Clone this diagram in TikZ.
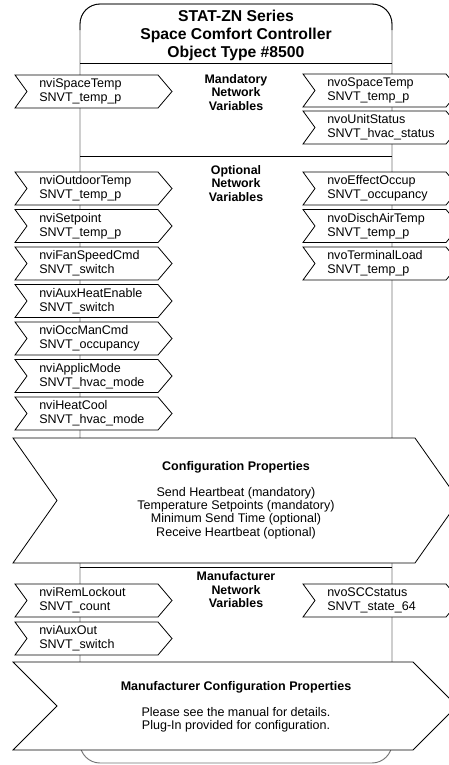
\documentclass[tikz,border=0pt]{standalone}
\usepackage{fontspec}
\setmainfont{Liberation Sans}
\usetikzlibrary{positioning}
\usetikzlibrary{calc}
\tikzstyle{chevron} = [draw,fill=white,line width=0.6pt]
\tikzstyle{boxside} = [draw,black!55,line width=0.7pt]
\tikzstyle{divider} = [draw,line width=0.6pt]
\tikzstyle{nvlabel} = [anchor=west,align=left,inner sep=0pt,font=\fontsize{9.4}{10.5}\selectfont]
\tikzstyle{seclabel} = [align=center,inner sep=0pt,font=\fontsize{9.3}{10.1}\selectfont\bfseries]
\tikzstyle{cptitle} = [inner sep=0pt,font=\fontsize{9.4}{10}\selectfont\bfseries]
\tikzstyle{cplabel} = [align=center,inner sep=0pt,font=\fontsize{9.4}{10}\selectfont]

\begin{document}
\begin{tikzpicture}[x=0.75pt,y=-0.75pt]
    \useasboundingbox (0,0) rectangle (449,765);
    \clip (0,0) rectangle (449,765);
    % The object box with its title
    \path[boxside, rounded corners=15pt] (80,4) rectangle (392,763);
    \path[divider, rounded corners=15pt] (80,30) -- (80,4) -- (392,4) -- (392,30);
    \foreach \ydiv in {63,156,567}
        \path[divider] (80,\ydiv) -- (392,\ydiv);
    \node[align=center,inner sep=0pt,font=\fontsize{11.8}{13.5}\selectfont\bfseries] (title) at (236,35)
        {STAT-ZN Series\\Space Comfort Controller\\Object Type \#8500};

    % Section labels
    \node[seclabel] (mandlbl) at (236,92.5) {Mandatory\\Network\\Variables};
    \node[seclabel] (optlbl) at (236,183.5) {Optional\\Network\\Variables};
    \node[seclabel] (mfrlbl) at (236,590) {Manufacturer\\Network\\Variables};

    % Input network variables (left)
    \foreach \ytop/\name/\snvt in {75/nviSpaceTemp/temp\_p, 172/nviOutdoorTemp/temp\_p,
        209.5/nviSetpoint/temp\_p, 247/nviFanSpeedCmd/switch, 284.5/nviAuxHeatEnable/switch,
        322/nviOccManCmd/occupancy, 359.5/nviApplicMode/hvac\_mode, 397/nviHeatCool/hvac\_mode,
        584/nviRemLockout/count, 622/nviAuxOut/switch}
    {
        \path[chevron] (15,\ytop) -- ++(143,0) -- ++(14,16.5) -- ++(-14,16.5) -- ++(-143,0) -- ++(12,-16.5) -- cycle;
        \node[nvlabel] (\name) at (39,\ytop+16.5) {\name\\SNVT\_\snvt};
    }

    % Output network variables (right)
    \foreach \ytop/\name/\snvt in {74/nvoSpaceTemp/temp\_p, 111/nvoUnitStatus/hvac\_status,
        172/nvoEffectOccup/occupancy, 209.5/nvoDischAirTemp/temp\_p, 247/nvoTerminalLoad/temp\_p,
        584/nvoSCCstatus/state\_64}
    {
        \path[chevron] (303,\ytop) -- ++(143,0) -- ++(14,16.5) -- ++(-14,16.5) -- ++(-143,0) -- ++(12,-16.5) -- cycle;
        \node[nvlabel] (\name) at (327,\ytop+16.5) {\name\\SNVT\_\snvt};
    }

    % Configuration properties
    \path[chevron] (13,438) -- (415,438) -- (459,500.5) -- (415,563) -- (13,563) -- (57,500.5) -- cycle;
    \node[cptitle] (cptitle) at (236,467) {Configuration Properties};
    \node[cplabel] (cplist) at (236,513) {Send Heartbeat (mandatory)\\Temperature Setpoints (mandatory)\\Minimum Send Time (optional)\\Receive Heartbeat (optional)};

    % Manufacturer configuration properties
    \path[chevron] (13,662) -- (413,662) -- (457,706) -- (413,750) -- (13,750) -- (57,706) -- cycle;
    \node[cptitle] (mfrcptitle) at (236,687) {Manufacturer Configuration Properties};
    \node[cplabel] (mfrcplist) at (236,719.5) {Please see the manual for details.\\Plug-In provided for configuration.};
\end{tikzpicture}
\end{document}
